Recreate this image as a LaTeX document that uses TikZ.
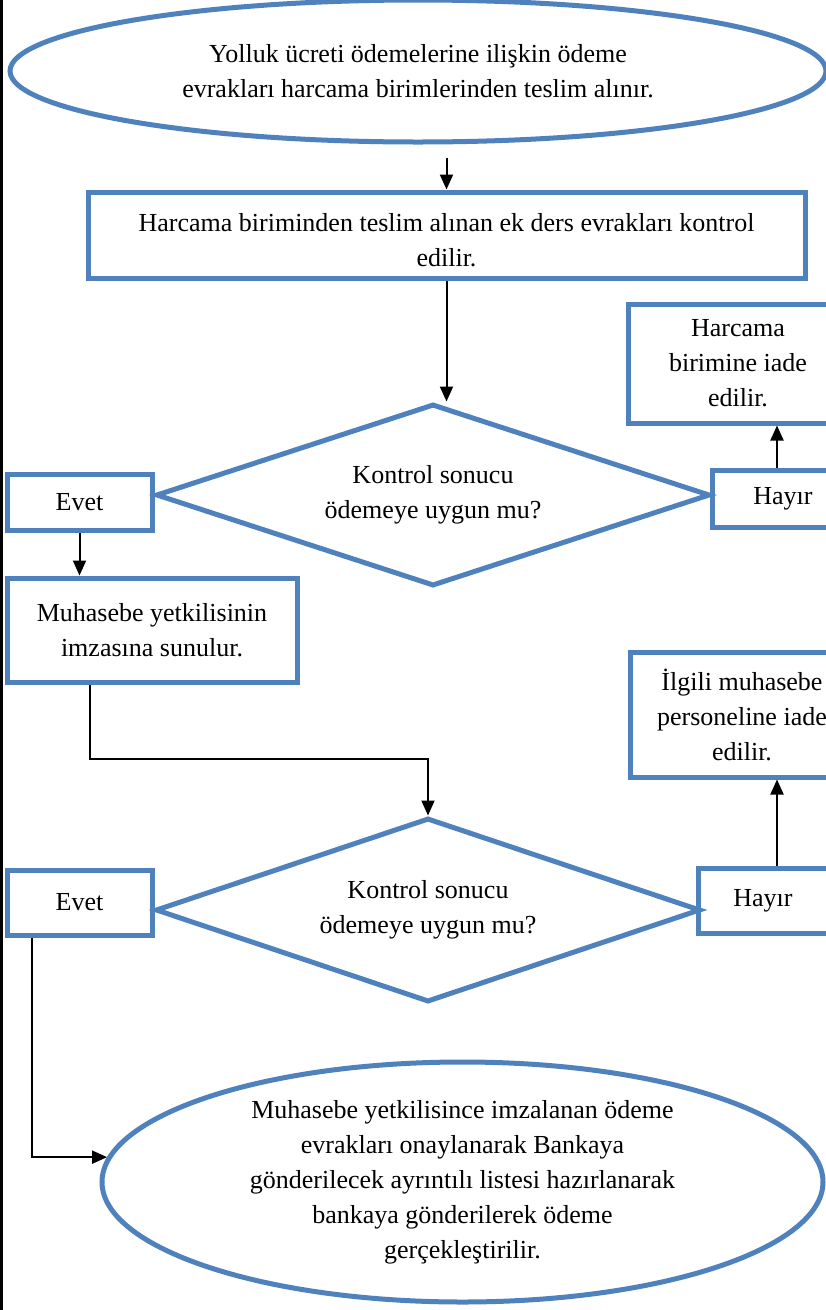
\documentclass[tikz,border=0pt]{standalone}
\usepackage{fontspec}
\setmainfont{Liberation Serif}
\usetikzlibrary{shapes.geometric,arrows.meta,positioning}
\definecolor{akisblue}{RGB}{79,129,189}
\tikzset{
	blok/.style={draw=akisblue, line width=5pt, rectangle, align=center, inner sep=0pt},
	oval/.style={draw=akisblue, line width=5pt, ellipse, align=center, inner sep=0pt},
	karar/.style={draw=akisblue, line width=5pt, diamond, aspect=3, align=center, inner sep=0pt},
	ok/.style={-{Triangle[length=15pt,width=13pt]}, line width=2pt}
}
\begin{document}
\begin{tikzpicture}[x=1pt, y=-1pt, font=\fontsize{26}{35}\selectfont]
			\useasboundingbox (0,0) rectangle (826,1310);
			\clip (0,0) rectangle (826,1310);
			\draw[line width=3pt] (1.5,0) -- (1.5,1310);

			\node(basla)	[oval, minimum width=816, minimum height=142] at (418,71)
				{Yolluk ücreti ödemelerine ilişkin ödeme\\evrakları harcama birimlerinden teslim alınır.};
			\node(kontrol)	[blok, minimum width=717, minimum height=86] at (446.5,235)
				{\rule{0pt}{28pt}Harcama biriminden teslim alınan ek ders evrakları kontrol\\edilir.};
			\node(karar1)	[karar, minimum width=554, minimum height=182] at (433,495)
				{Kontrol sonucu\\ödemeye uygun mu?};
			\node(evet1)	[blok, minimum width=145, minimum height=56] at (79.5,502) {Evet};
			\node(hayir1)	[blok, minimum width=142, minimum height=57] at (783,498.5) {Hayır};
			\node(iade1)	[blok, minimum width=220, minimum height=119] at (738,363.5)
				{Harcama\\birimine iade\\edilir.};
			\node(muhasebe)	[blok, minimum width=290, minimum height=104] at (152,630)
				{Muhasebe yetkilisinin\\imzasına sunulur.};
			\node(iade2)	[blok, minimum width=224, minimum height=125] at (742,714.5)
				{İlgili muhasebe\\personeline iade\\edilir.};
			\node(karar2)	[karar, minimum width=545, minimum height=184] at (428,910)
				{Kontrol sonucu\\ödemeye uygun mu?};
			\node(evet2)	[blok, minimum width=145, minimum height=65] at (79.5,902.5) {Evet};
			\node(hayir2)	[blok, minimum width=130, minimum height=65] at (763,900.5) {Hayır};
			\node(bitis)	[oval, minimum width=721, minimum height=240] at (462.5,1182)
				{Muhasebe yetkilisince imzalanan ödeme\\evrakları onaylanarak Bankaya\\gönderilecek ayrıntılı listesi hazırlanarak\\bankaya gönderilerek ödeme\\gerçekleştirilir.};
			\coordinate(dirsek) at (90,759);

			\draw[ok, shorten <=13pt] (basla.south -| kontrol.north) -- (kontrol.north);
			\draw[ok] (kontrol.south) -- (kontrol.south |- karar1.north);
			\draw[ok] (evet1.south) -- (evet1.south |- muhasebe.north);
			\draw[ok] ([xshift=-6pt]hayir1.north) -- ([xshift=-6pt]hayir1.north |- iade1.south);
			\draw[ok] (muhasebe.south -| dirsek) -- (dirsek) -| (karar2.north);
			\draw[ok] ([xshift=14pt]hayir2.north) -- ([xshift=14pt]hayir2.north |- iade2.south);
			\draw[ok] ([xshift=-48pt]evet2.south) |- (bitis.176);
		\end{tikzpicture}
\end{document}
